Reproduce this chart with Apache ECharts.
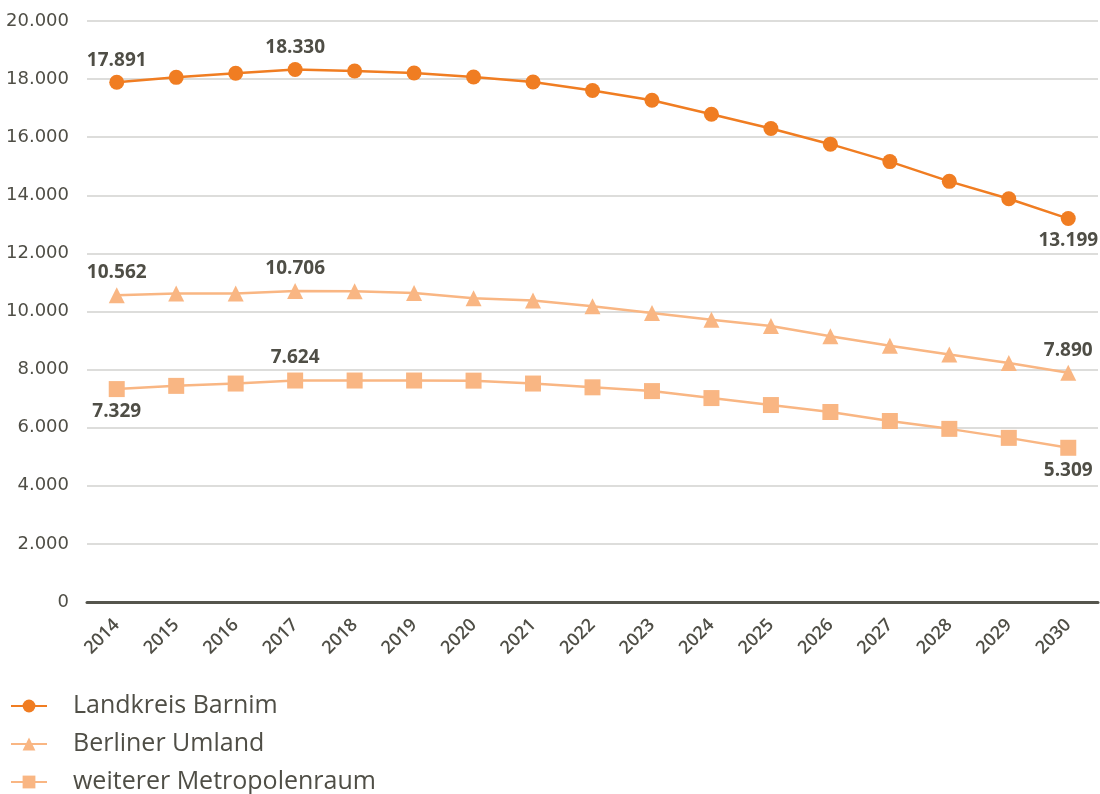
<!DOCTYPE html>
<html><head><meta charset="utf-8">
<script src="https://cdn.jsdelivr.net/npm/echarts@6/dist/echarts.min.js"></script>
<style>html,body{margin:0;padding:0;background:#fff}#c{width:1100px;height:794px}</style>
</head><body><div id="c"></div>
<script>
const years = ['2014','2015','2016','2017','2018','2019','2020','2021','2022','2023','2024','2025','2026','2027','2028','2029','2030'];
const barnim = [17891,18060,18200,18330,18280,18210,18070,17900,17610,17270,16790,16300,15760,15160,14480,13880,13199];
const umland = [10562,10620,10620,10706,10700,10640,10460,10380,10180,9950,9720,9500,9150,8820,8520,8230,7890];
const metro = [7329,7440,7520,7624,7624,7624,7620,7520,7390,7260,7020,6780,6540,6230,5960,5650,5309];
const seriesNames = ['Landkreis Barnim','Berliner Umland','weiterer Metropolenraum'];
const yTicks = {min:0, max:20000, interval:2000};

function fmt(v){ return String(v).replace(/\B(?=(\d{3})+(?!\d))/g,'.'); }
const textCol = '#4f4e46';
function withLabels(arr, labels){
  return arr.map((v,i)=>{
    const l = labels[i];
    if(!l) return v;
    return {value:v, label:{show:true, position:l.pos}};
  });
}
const labelStyle = {color:textCol, fontFamily:'Open Sans', fontWeight:'bold', fontSize:19, formatter:p=>fmt(p.value)};

const chart = echarts.init(document.getElementById('c'), null, {renderer:'canvas'});
chart.setOption({
  animation:false,
  grid:{left:87, right:2, top:21, bottom:192, containLabel:false},
  legend:{
    orient:'vertical', left:10, top:693, height:110, padding:0, itemGap:12, itemWidth:36, itemHeight:16,
    textStyle:{color:textCol, fontFamily:'Open Sans', fontSize:25, lineHeight:26, padding:[0,0,0,21]},
    data:seriesNames
  },
  xAxis:{
    type:'category', data:years, boundaryGap:true,
    axisLine:{lineStyle:{color:'#55554d', width:3}},
    axisTick:{show:false},
    axisLabel:{rotate:45, color:textCol, fontFamily:'Open Sans', fontWeight:600, fontSize:18, margin:20, interval:0}
  },
  yAxis:{
    type:'value', min:yTicks.min, max:yTicks.max, interval:yTicks.interval,
    axisLine:{show:false}, axisTick:{show:false},
    splitLine:{lineStyle:{color:'#d2d2cf', width:1.5}},
    axisLabel:{color:textCol, fontFamily:'Verdana, DejaVu Sans', fontSize:18, margin:18, formatter:v=>fmt(v)}
  },
  series:[
    {name:seriesNames[0], type:'line', symbol:'circle', symbolSize:15,
     itemStyle:{color:'#f07d22'}, lineStyle:{color:'#f07d22', width:2.5},
     label:labelStyle, z:5,
     data:withLabels(barnim,{0:{pos:'top'},3:{pos:'top'},16:{pos:'bottom'}})},
    {name:seriesNames[1], type:'line', symbol:'triangle', symbolSize:16,
     itemStyle:{color:'#f9b683'}, lineStyle:{color:'#f9b683', width:2.5},
     label:labelStyle,
     data:withLabels(umland,{0:{pos:'top'},3:{pos:'top'},16:{pos:'top'}})},
    {name:seriesNames[2], type:'line', symbol:'rect', symbolSize:16,
     itemStyle:{color:'#f9b683'}, lineStyle:{color:'#f9b683', width:2.5},
     label:labelStyle,
     data:withLabels(metro,{0:{pos:'bottom'},3:{pos:'top'},16:{pos:'bottom'}})}
  ]
});
</script></body></html>
